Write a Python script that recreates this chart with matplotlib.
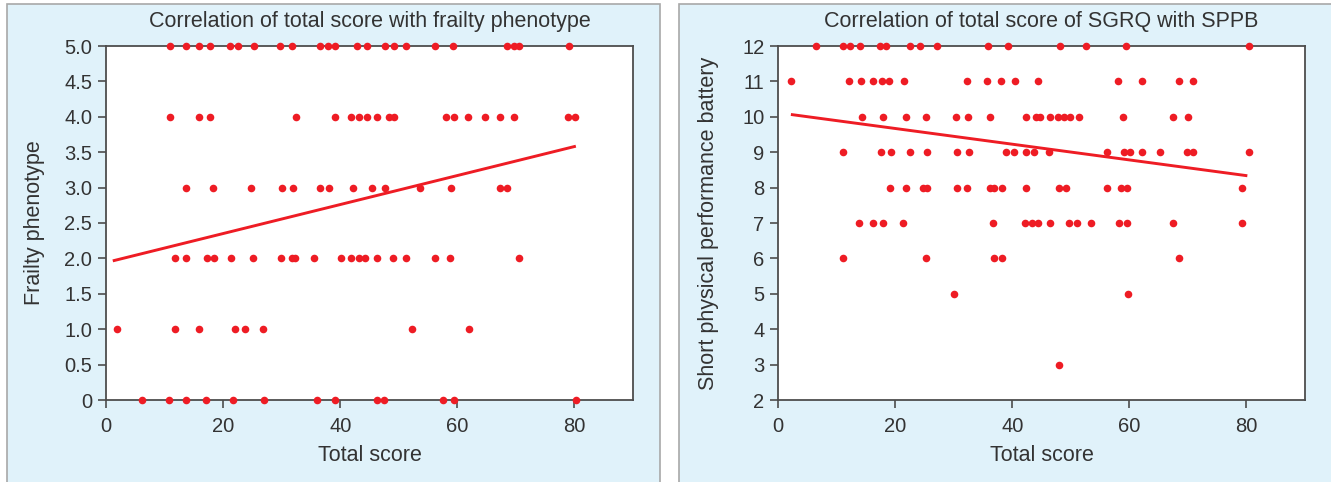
import matplotlib
matplotlib.use("Agg")
import matplotlib.pyplot as plt
from matplotlib.patches import Rectangle

plt.rcParams['font.family'] = ['Liberation Sans', 'DejaVu Sans']

# ---------------- Left panel data: total score vs frailty phenotype ----------------
frail_x5 = [10.9, 13.6, 15.9, 17.7, 21.1, 22.5, 25.3, 29.8, 31.8, 36.6, 37.9, 39.1,
            42.9, 44.5, 47.7, 49.2, 51.2, 56.2, 59.2, 68.4, 69.6, 70.5, 79.1]
frail_x4 = [10.9, 15.9, 17.7, 32.5, 39.1, 41.9, 43.2, 44.5, 46.3, 48.4, 49.1, 58.0,
            59.5, 61.8, 64.7, 67.3, 69.6, 78.9, 80.1]
frail_x3 = [13.7, 18.3, 24.7, 30.1, 31.9, 36.5, 38.0, 42.1, 45.4, 47.6, 53.7, 58.9,
            67.3, 68.5]
frail_x2 = [11.7, 13.6, 17.3, 18.4, 21.3, 25.1, 29.9, 31.8, 32.3, 35.6, 40.2, 41.9,
            43.2, 44.3, 46.2, 49.0, 51.2, 56.2, 58.7, 70.6]
frail_x1 = [1.8, 11.8, 15.8, 22.1, 23.8, 26.8, 52.3, 62.0]
frail_x0 = [6.1, 10.8, 13.7, 17.1, 21.7, 26.9, 36.1, 39.1, 46.2, 47.5, 57.5, 59.4, 80.2]
frail_levels = [5.0, 4.0, 3.0, 2.0, 1.0, 0.0]
frail_fit_x = [1.4, 80.0]
frail_fit_y = [1.97, 3.58]
frail_yticks = [0, 0.5, 1.0, 1.5, 2.0, 2.5, 3.0, 3.5, 4.0, 4.5, 5.0]
frail_yticklabels = ['0', '0.5', '1.0', '1.5', '2.0', '2.5', '3.0', '3.5', '4.0', '4.5', '5.0']

# ---------------- Right panel data: SGRQ total score vs SPPB ----------------
sppb_x12 = [6.4, 11.0, 12.2, 14.0, 17.3, 18.4, 22.5, 24.2, 27.1, 35.9, 39.3, 48.2,
            52.5, 59.4, 80.5]
sppb_x11 = [2.2, 12.0, 14.2, 16.1, 17.7, 19.0, 21.4, 32.3, 35.7, 38.0, 40.4, 44.4,
            58.0, 62.2, 68.5, 70.8]
sppb_x10 = [14.3, 17.9, 21.8, 25.3, 30.3, 32.4, 36.2, 42.4, 44.1, 44.7, 46.4, 47.8,
            48.8, 49.8, 51.4, 58.9, 67.4, 70.0]
sppb_x9 = [11.0, 17.5, 19.2, 22.5, 25.4, 30.6, 32.6, 38.9, 40.3, 42.4, 43.7, 46.3,
           56.2, 59.0, 60.1, 62.1, 65.2, 69.9, 70.9, 80.4]
sppb_x8 = [19.1, 21.9, 24.7, 25.4, 30.6, 32.3, 36.2, 36.8, 38.3, 42.4, 47.9, 49.1,
           56.2, 58.6, 59.6, 79.2]
sppb_x7 = [13.8, 16.2, 17.9, 21.3, 36.7, 42.2, 43.4, 44.4, 46.4, 49.6, 51.1, 53.5,
           58.2, 59.6, 67.4, 79.3]
sppb_x6 = [11.1, 25.3, 36.8, 38.3, 68.4]
sppb_x5 = [30.1, 59.8]
sppb_x3 = [47.9]
sppb_levels = [12, 11, 10, 9, 8, 7, 6, 5, 3]
sppb_fit_x = [2.4, 79.9]
sppb_fit_y = [10.06, 8.34]
sppb_yticks = [2, 3, 4, 5, 6, 7, 8, 9, 10, 11, 12]

xticks = [0, 20, 40, 60, 80]

RED = '#ee1c24'
SPINE = '#4d4d4d'
TEXT = '#333333'
PANEL_BG = '#e0f2fa'
PANEL_EDGE = '#a8a8a8'

W, H = 1331, 482
fig = plt.figure(figsize=(W / 100, H / 100), dpi=100)

# panel backgrounds (behind the axes)
fig.patches.append(Rectangle((7 / W, -0.05), 653 / W, 1.05 - 4 / H, transform=fig.transFigure,
                             facecolor=PANEL_BG, edgecolor=PANEL_EDGE, linewidth=1.2, zorder=-10))
fig.patches.append(Rectangle((679 / W, -0.05), 700 / W, 1.05 - 4 / H, transform=fig.transFigure,
                             facecolor=PANEL_BG, edgecolor=PANEL_EDGE, linewidth=1.2, zorder=-10))

ax1 = fig.add_axes([106 / W, 1 - 400 / H, (633 - 106) / W, (400 - 46) / H])
ax2 = fig.add_axes([778.3 / W, 1 - 400 / H, (1305 - 778.3) / W, (400 - 46) / H])
ax1.set_zorder(5)
ax2.set_zorder(5)


def style(ax, title, xlabel, ylabel):
    ax.set_facecolor('white')
    for s in ax.spines.values():
        s.set_color(SPINE)
        s.set_linewidth(1.3)
    ax.tick_params(direction='out', length=6, width=1.2, color=SPINE,
                   labelsize=14.5, labelcolor=TEXT, pad=4)
    ax.tick_params(axis='x', pad=6)
    ax.set_xticks(xticks)
    ax.set_xlim(0, 90)
    ax.set_title(title, fontsize=15.5, color=TEXT, y=1 + 24 / 354, va='center', pad=0)
    ax.set_xlabel(xlabel, fontsize=15.5, color=TEXT, va='center')
    ax.xaxis.set_label_coords(0.5, -55 / 354)
    ax.set_ylabel(ylabel, fontsize=15.5, color=TEXT, va='center')


# left panel
frail_rows = [frail_x5, frail_x4, frail_x3, frail_x2, frail_x1, frail_x0]
for xs, lvl in zip(frail_rows, frail_levels):
    ax1.scatter(xs, [lvl] * len(xs), s=30, color=RED, linewidths=0, zorder=5, clip_on=False)
ax1.plot(frail_fit_x, frail_fit_y, color=RED, linewidth=2.1, zorder=4)
style(ax1, 'Correlation of total score with frailty phenotype', 'Total score', 'Frailty phenotype')
ax1.set_ylim(0, 5.0)
ax1.set_yticks(frail_yticks)
ax1.set_yticklabels(frail_yticklabels)
ax1.yaxis.set_label_coords((35 - 106) / 527, 0.5)

# right panel
sppb_rows = [sppb_x12, sppb_x11, sppb_x10, sppb_x9, sppb_x8, sppb_x7, sppb_x6, sppb_x5, sppb_x3]
for xs, lvl in zip(sppb_rows, sppb_levels):
    ax2.scatter(xs, [lvl] * len(xs), s=30, color=RED, linewidths=0, zorder=5, clip_on=False)
ax2.plot(sppb_fit_x, sppb_fit_y, color=RED, linewidth=2.1, zorder=4)
style(ax2, 'Correlation of total score of SGRQ with SPPB', 'Total score',
      'Short physical performance battery')
ax2.set_ylim(2, 12)
ax2.set_yticks(sppb_yticks)
ax2.yaxis.set_label_coords((708 - 778.3) / 526.7, 0.5)

fig.savefig('out.png', dpi=100)
